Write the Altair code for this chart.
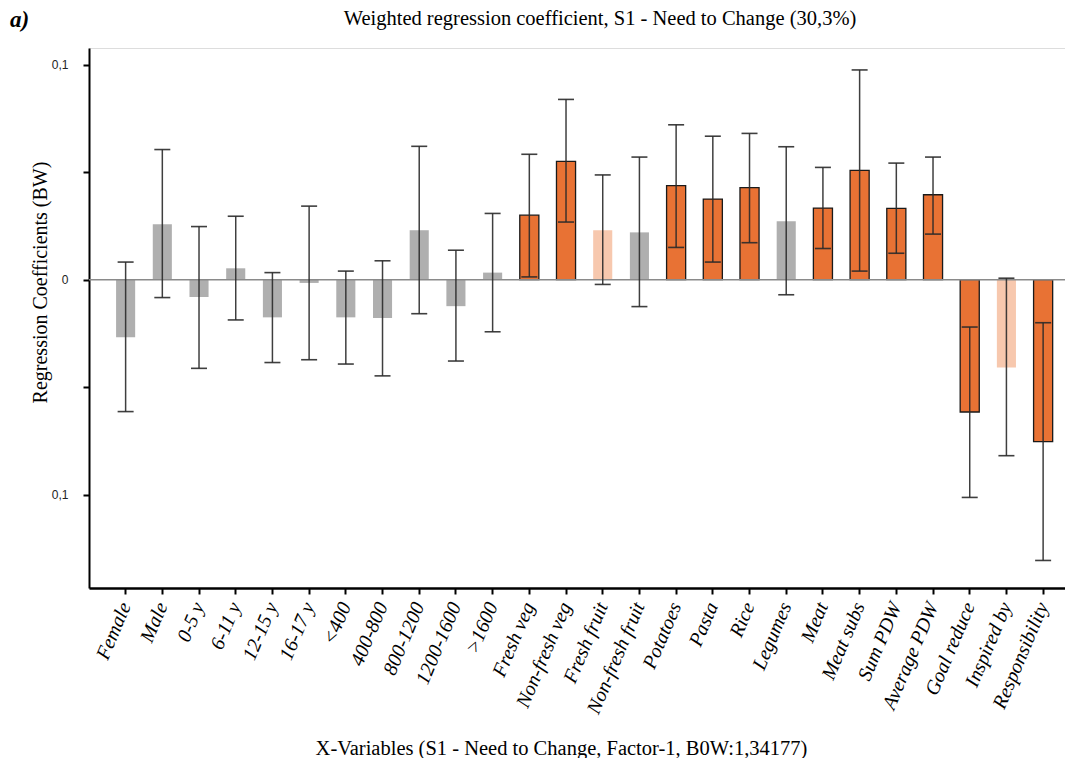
import altair as alt
import pandas as pd

categories = ["Female", "Male", "0-5 y", "6-11 y", "12-15 y", "16-17 y", "<400", "400-800",
              "800-1200", "1200-1600", ">1600", "Fresh veg", "Non-fresh veg", "Fresh fruit",
              "Non-fresh fruit", "Potatoes", "Pasta", "Rice", "Legumes", "Meat", "Meat subs",
              "Sum PDW", "Average PDW", "Goal reduce", "Inspired by", "Responsibility"]

coef = [-0.0267, 0.0258, -0.0080, 0.0053, -0.0175, -0.0015, -0.0175, -0.0178, 0.0230, -0.0123,
        0.0033, 0.0300, 0.0550, 0.0230, 0.0220, 0.0437, 0.0375, 0.0428, 0.0272, 0.0333, 0.0508,
        0.0332, 0.0395, -0.0615, -0.0408, -0.0753]

ci_high = [0.0082, 0.0605, 0.0247, 0.0295, 0.0033, 0.0342, 0.0040, 0.0088, 0.0620, 0.0137,
           0.0308, 0.0583, 0.0838, 0.0487, 0.0570, 0.0720, 0.0667, 0.0680, 0.0618, 0.0522, 0.0975,
           0.0542, 0.0570, -0.0220, 0.0007, -0.0200]

ci_low = [-0.0613, -0.0083, -0.0412, -0.0187, -0.0385, -0.0372, -0.0392, -0.0447, -0.0158, -0.0378,
          -0.0242, 0.0013, 0.0268, -0.0022, -0.0125, 0.0150, 0.0082, 0.0172, -0.0070, 0.0145, 0.0040,
          0.0123, 0.0212, -0.1012, -0.0818, -0.1305]

group = ["ns"] * 11 + ["sig", "sig", "marg", "ns", "sig", "sig", "sig", "ns", "sig", "sig",
                       "sig", "sig", "sig", "marg", "sig"]

group_names = ["ns", "sig", "marg"]
group_colors = ["#AFAFAF", "#E87234", "#F7C8AE"]

title_text = ["Weighted regression coefficient, S1 -  Need to Change (30,3%)"]
panel_label = ["a)"]

df = pd.DataFrame({"cat": categories, "coef": coef, "hi": ci_high, "lo": ci_low, "group": group})

SERIF = "Liberation Serif"

x_enc = alt.X("cat:N", sort=categories,
              scale=alt.Scale(paddingInner=0.48, paddingOuter=0.537, align=0.687),
              axis=alt.Axis(title="X-Variables (S1 - Need to Change, Factor-1, B0W:1,34177)",
                            titleFont=SERIF, titleFontSize=20.5, titleFontWeight="normal",
                            titleColor="#000", titleX=472, titleY=160, titleAlign="center",
                            titleBaseline="middle",
                            labelAngle=-67, labelAlign="right", labelBaseline="middle",
                            labelFont=SERIF, labelFontStyle="italic", labelFontSize=20,
                            labelColor="#000", labelPadding=9,
                            domainColor="#000", domainWidth=2.5, tickColor="#000",
                            tickWidth=2, tickSize=6))

y_scale = alt.Scale(domain=[-0.1433, 0.1077], nice=False, zero=False)
y_axis = alt.Axis(title="Regression Coefficients (BW)", titleFont=SERIF, titleFontSize=20,
                  titleFontWeight="normal", titleColor="#000", titleX=-49, titleY=234,
                  titleAngle=-90, titleAlign="center", titleBaseline="middle",
                  values=[-0.1, -0.05, 0, 0.05, 0.1],
                  labelExpr="datum.value == 0 ? '0' : (abs(datum.value) > 0.09 ? '0,1' : '')",
                  labelFont="Liberation Sans", labelFontSize=12, labelColor="#222",
                  labelPadding=15, grid=False, domainColor="#000", domainWidth=2,
                  tickColor="#000", tickWidth=2, tickSize=6)

base = alt.Chart(df)

bars = base.mark_bar(strokeWidth=1.3).encode(
    x=x_enc,
    y=alt.Y("coef:Q", scale=y_scale, axis=y_axis),
    y2=alt.datum(0),
    color=alt.Color("group:N", scale=alt.Scale(domain=group_names, range=group_colors), legend=None),
    stroke=alt.condition(alt.datum.group == "sig", alt.value("#1a1a1a"), alt.value("transparent")),
)

err = base.mark_rule(color="#2a2a2a", strokeWidth=1.5, opacity=0.9).encode(
    x=alt.X("cat:N", sort=categories),
    y="lo:Q",
    y2="hi:Q",
)

cap_hi = base.mark_tick(color="#2a2a2a", size=16, thickness=1.6, opacity=0.9).encode(
    x=alt.X("cat:N", sort=categories),
    y="hi:Q",
)
cap_lo = base.mark_tick(color="#2a2a2a", size=16, thickness=1.6, opacity=0.9).encode(
    x=alt.X("cat:N", sort=categories),
    y="lo:Q",
)

zero = alt.Chart(pd.DataFrame({"z": [0]})).mark_rule(color="#8a8a8a", strokeWidth=1.5).encode(
    y="z:Q"
)

label_a = alt.Chart(pd.DataFrame({"t": panel_label})).mark_text(
    font=SERIF, fontSize=23, fontWeight="bold", fontStyle="italic", align="left",
    baseline="alphabetic", color="#000"
).encode(text="t:N", x=alt.value(-79), y=alt.value(-21))

title_mark = alt.Chart(pd.DataFrame({"t": title_text})).mark_text(
    font=SERIF, fontSize=20.5, fontWeight="normal", align="center",
    baseline="alphabetic", color="#000"
).encode(text="t:N", x=alt.value(511), y=alt.value(-23))

chart = alt.layer(bars, zero, err, cap_hi, cap_lo, label_a, title_mark).properties(
    width=976,
    height=540,
    padding={"left": 81, "top": 40, "right": 0, "bottom": 170},
    autosize=alt.AutoSizeParams(type="none"),
).configure_view(stroke=None).configure(background="white")

chart.save("out.html", embed_options={"renderer": "svg", "actions": False})
